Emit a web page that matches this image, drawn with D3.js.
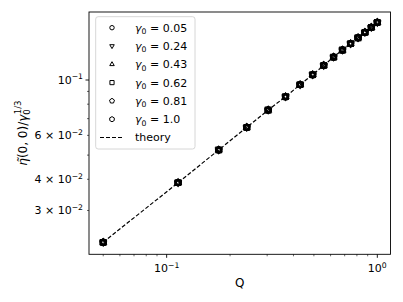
<!DOCTYPE html>
<html><head><meta charset="utf-8">
<script src="https://cdn.jsdelivr.net/npm/d3@7"></script>
<style>body{margin:0;background:#fff}svg{display:block;font-family:"DejaVu Sans",sans-serif}</style>
</head><body><svg id="c" width="403" height="302"></svg>
<script>
const qValues = [0.05,0.1133,0.1767,0.24,0.3033,0.3667,0.43,0.4933,0.5567,0.62,0.6833,0.7467,0.81,0.8733,0.9367,1.0];
const etaValues = [0.02237,0.03878,0.05244,0.06462,0.07581,0.08571,0.09576,0.1050,0.1145,0.1236,0.1319,0.1398,0.1477,0.1553,0.1626,0.1702];
const theoryValues = [0.02237,0.03878,0.05244,0.06462,0.07581,0.08571,0.09576,0.1050,0.1145,0.1236,0.1319,0.1398,0.1477,0.1553,0.1626,0.1702];
const gammaLabels = ["0.05","0.24","0.43","0.62","0.81","1.0"];
const markerShapes = ["circle","tridown","triup","square","pentagon","hexagon"];
const xLim = [0.0428, 1.155];
const yLim = [0.02002, 0.1873];
const xMajor = [0.1, 1];
const xMinor = [0.05,0.06,0.07,0.08,0.09,0.2,0.3,0.4,0.5,0.6,0.7,0.8,0.9];
const yMajor = [0.1];
const yMinor = [0.03,0.04,0.05,0.06,0.07,0.08,0.09];
const yMinorLabels = {"0.03":"3","0.04":"4","0.06":"6"};

const svg = d3.select("#c");
const L=89, R=390.5, T=12, B=254.3;
const x = d3.scaleLog().domain(xLim).range([L,R]);
const y = d3.scaleLog().domain(yLim).range([B,T]);
const FS = 11, SFS = 7.7;

function shapePath(s, r){
  const poly=(n,rot)=>{const a=[];for(let i=0;i<n;i++){const t=rot+i*2*Math.PI/n;a.push([r*Math.cos(t),r*Math.sin(t)]);}return "M"+a.map(p=>p.join(",")).join("L")+"Z";};
  if(s==="tridown") return poly(3,Math.PI/2);
  if(s==="triup") return poly(3,-Math.PI/2);
  if(s==="square"){const h=r*0.8;return `M${-h},${-h}L${h},${-h}L${h},${h}L${-h},${h}Z`;}
  if(s==="pentagon") return poly(5,-Math.PI/2);
  if(s==="hexagon") return poly(6,-Math.PI/2);
}
function drawMarker(g, s, cx, cy, r, sw){
  if(s==="circle") g.append("circle").attr("cx",cx).attr("cy",cy).attr("r",r*0.85).attr("fill","none").attr("stroke","#000").attr("stroke-width",sw);
  else g.append("path").attr("d",shapePath(s,r)).attr("transform",`translate(${cx},${cy})`).attr("fill","none").attr("stroke","#000").attr("stroke-width",sw);
}

// theory line
const line = d3.line().x((d,i)=>x(qValues[i])).y(d=>y(d));
svg.append("path").datum(theoryValues).attr("d",line).attr("fill","none").attr("stroke","#000").attr("stroke-width",1.2).attr("stroke-dasharray","4,2");

// markers
const mg = svg.append("g");
markerShapes.forEach(s=>{
  qValues.forEach((q,i)=>drawMarker(mg,s,x(q),y(etaValues[i]),3.3,1.5));
});

// frame
svg.append("rect").attr("x",L).attr("y",T).attr("width",R-L).attr("height",B-T).attr("fill","none").attr("stroke","#000").attr("stroke-width",0.9);

// x ticks
const xa = svg.append("g");
xMajor.forEach(v=>{
  xa.append("line").attr("x1",x(v)).attr("x2",x(v)).attr("y1",B).attr("y2",B+3.5).attr("stroke","#000").attr("stroke-width",0.9);
  const t=xa.append("text").attr("x",x(v)).attr("y",B+18).attr("text-anchor","middle").attr("font-size",FS);
  t.append("tspan").text("10");
  t.append("tspan").attr("dy",-4.5).attr("font-size",SFS).text(v===1?"0":"\u22121");
});
xMinor.forEach(v=>{
  xa.append("line").attr("x1",x(v)).attr("x2",x(v)).attr("y1",B).attr("y2",B+2).attr("stroke","#000").attr("stroke-width",0.6);
});
// y ticks
const ya = svg.append("g");
yMajor.forEach(v=>{
  ya.append("line").attr("x1",L-3.5).attr("x2",L).attr("y1",y(v)).attr("y2",y(v)).attr("stroke","#000").attr("stroke-width",0.9);
  const t=ya.append("text").attr("x",L-6).attr("y",y(v)+3.8).attr("text-anchor","end").attr("font-size",FS);
  t.append("tspan").text("10");
  t.append("tspan").attr("dy",-4.5).attr("font-size",SFS).text("\u22121");
});
yMinor.forEach(v=>{
  ya.append("line").attr("x1",L-2).attr("x2",L).attr("y1",y(v)).attr("y2",y(v)).attr("stroke","#000").attr("stroke-width",0.6);
  const lab = yMinorLabels[String(v)];
  if(lab){
    const t=ya.append("text").attr("x",L-6).attr("y",y(v)+3.8).attr("text-anchor","end").attr("font-size",FS);
    t.append("tspan").text(lab+" \u00d7 10");
    t.append("tspan").attr("dy",-4.5).attr("font-size",SFS).text("\u22122");
  }
});

// axis labels
svg.append("text").attr("x",(L+R)/2).attr("y",287).attr("text-anchor","middle").attr("font-size",12).text("Q");
const yl = svg.append("text").attr("transform",`translate(27,${(T+B)/2}) rotate(-90)`).attr("text-anchor","middle").attr("font-size",12);
yl.append("tspan").attr("font-style","italic").text("\u03b7\u0303");
yl.append("tspan").text("(0, 0)/");
yl.append("tspan").attr("font-style","italic").text("\u03b3");
yl.append("tspan").attr("dy",3).attr("font-size",8.5).text("0");
yl.append("tspan").attr("dy",-9).attr("dx",-5).attr("font-size",8.5).text("1/3");

// legend
const lg = svg.append("g");
lg.append("rect").attr("x",95.7).attr("y",16.7).attr("width",99.3).attr("height",132.3).attr("rx",2.5).attr("fill","#fff").attr("fill-opacity",0.8).attr("stroke","#ccc").attr("stroke-width",0.8);
const rowY = i=>27.7+i*18.3;
gammaLabels.forEach((g,i)=>{
  drawMarker(lg, markerShapes[i], 112, rowY(i), 2.6, 1);
  const t=lg.append("text").attr("x",135).attr("y",rowY(i)+3.9).attr("font-size",FS);
  t.append("tspan").attr("font-style","italic").text("\u03b3");
  t.append("tspan").attr("dy",2.5).attr("font-size",SFS).text("0");
  t.append("tspan").attr("dy",-2.5).text(" = "+g);
});
lg.append("line").attr("x1",100).attr("x2",123).attr("y1",rowY(6)).attr("y2",rowY(6)).attr("stroke","#000").attr("stroke-width",1.2).attr("stroke-dasharray","4,2");
lg.append("text").attr("x",135).attr("y",rowY(6)+3.9).attr("font-size",FS).text("theory");
</script></body></html>
